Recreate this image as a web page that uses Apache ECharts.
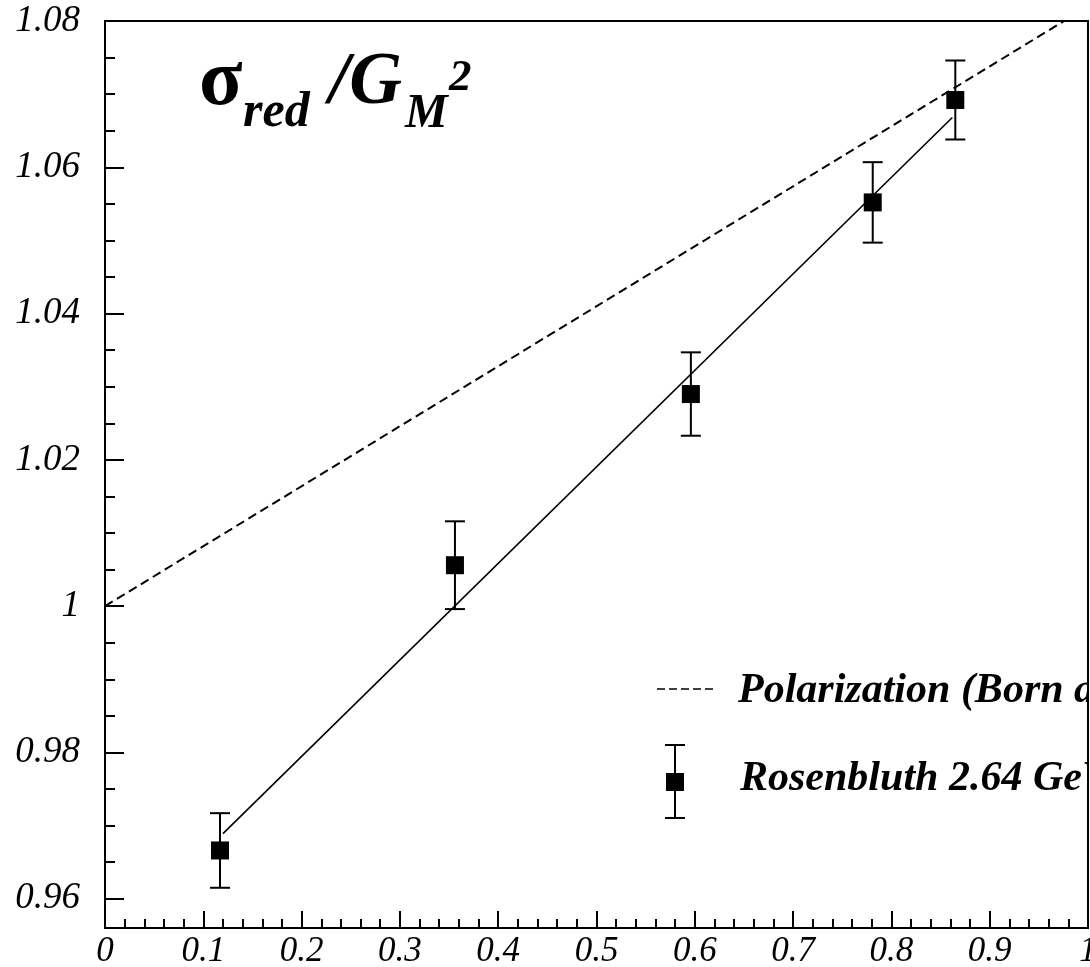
<!DOCTYPE html>
<html><head><meta charset="utf-8">
<script src="https://cdn.jsdelivr.net/npm/echarts@6/dist/echarts.min.js"></script>
<style>html,body{margin:0;padding:0;background:#fff}#c{width:1090px;height:967px}</style>
</head><body><div id="c"></div>
<script>
// Rosenbluth data points (x = epsilon, y = sigma_red / G_M^2)
const pointX = [0.117, 0.356, 0.596, 0.781, 0.865];
const pointY = [0.9666, 1.0056, 1.0290, 1.0552, 1.0692];
const pointErr = [0.0051, 0.0060, 0.0057, 0.0055, 0.0054];
// Linear fit through Rosenbluth points
const fitX = [0.120, 0.862];
const fitY = [0.9689, 1.0668];
// Polarization (Born approx.) line
const polX = [0, 1];
const polY = [1.0, 1.082];
// Axis ticks
const xTicks = [0, 0.1, 0.2, 0.3, 0.4, 0.5, 0.6, 0.7, 0.8, 0.9, 1];
const xTickLabels = ['0', '0.1', '0.2', '0.3', '0.4', '0.5', '0.6', '0.7', '0.8', '0.9', '1'];
const yTicks = [0.96, 0.98, 1.00, 1.02, 1.04, 1.06, 1.08];
const yTickLabels = ['0.96', '0.98', '1', '1.02', '1.04', '1.06', '1.08'];
const yMinorTicks = [0.965, 0.97, 0.975, 0.985, 0.99, 0.995, 1.005, 1.01, 1.015, 1.025, 1.03, 1.035, 1.045, 1.05, 1.055, 1.065, 1.07, 1.075];
const legendLabels = ['Polarization (Born approx.)', 'Rosenbluth 2.64 GeV'];

const FONT = "'Liberation Serif', 'DejaVu Serif', serif";
function labelFor(v, ticks, labels) {
  let best = 0, bd = Infinity;
  ticks.forEach((t, i) => { const d = Math.abs(t - v); if (d < bd) { bd = d; best = i; } });
  return labels[best];
}
function baseText(x, baseline, text, size, weight, style) {
  return {
    type: 'text', x: x, y: baseline - 0.33 * size, z: 50,
    style: { text: text, fill: '#000', font: style + ' ' + weight + ' ' + size + 'px ' + FONT, verticalAlign: 'middle', align: 'left' }
  };
}

const chart = echarts.init(document.getElementById('c'), null, { renderer: 'canvas' });
const errData = pointX.map((x, i) => [x, pointY[i], pointErr[i]]);

const option = {
  animation: false,
  backgroundColor: '#fff',
  grid: {
    left: 105, top: 21, right: 2, bottom: 39, show: true, containLabel: false, outerBoundsMode: 'none',
    borderColor: '#000', borderWidth: 2, backgroundColor: 'transparent'
  },
  xAxis: {
    type: 'value', min: 0, max: 1, interval: 0.1,
    axisLine: { show: true, lineStyle: { color: '#000', width: 2 } },
    axisTick: { show: true, inside: true, length: 17, lineStyle: { color: '#000', width: 2 } },
    minorTick: { show: true, splitNumber: 5, length: 9, lineStyle: { color: '#000', width: 2 } },
    splitLine: { show: false },
    axisLabel: {
      show: true, margin: 6, color: '#000', fontFamily: FONT, fontStyle: 'italic', fontSize: 35,
      showMinLabel: true, showMaxLabel: true, hideOverlap: false,
      formatter: v => labelFor(v, xTicks, xTickLabels)
    }
  },
  yAxis: [{
    type: 'value', min: 0.956, max: 1.08,
    axisLine: { show: true, lineStyle: { color: '#000', width: 2 } },
    axisTick: { show: true, inside: true, length: 19, customValues: yTicks, lineStyle: { color: '#000', width: 2 } },
    splitLine: { show: false },
    axisLabel: {
      show: true, margin: 25, color: '#000', fontFamily: FONT, fontStyle: 'italic', fontSize: 37,
      customValues: yTicks, showMinLabel: true, showMaxLabel: true, hideOverlap: false,
      formatter: v => labelFor(v, yTicks, yTickLabels)
    }
  }, {
    type: 'value', min: 0.956, max: 1.08, position: 'left', offset: 0, alignTicks: false,
    axisLine: { show: false },
    axisTick: { show: true, inside: true, length: 10, customValues: yMinorTicks, lineStyle: { color: '#000', width: 2 } },
    splitLine: { show: false },
    axisLabel: { show: false }
  }],
  series: [
    {
      type: 'line', name: legendLabels[0], data: polX.map((x, i) => [x, polY[i]]),
      showSymbol: false, symbol: 'none', clip: true,
      lineStyle: { color: '#000', width: 2, type: [9, 5] }
    },
    {
      type: 'line', name: 'fit', data: fitX.map((x, i) => [x, fitY[i]]),
      showSymbol: false, symbol: 'none', clip: true,
      lineStyle: { color: '#000', width: 1.6 }
    },
    {
      type: 'custom', name: 'err', data: errData,
      encode: { x: 0, y: 1 },
      renderItem: function (params, api) {
        const x = api.value(0), y = api.value(1), e = api.value(2);
        const t = api.coord([x, y + e]), b = api.coord([x, y - e]);
        const hw = 10, st = { stroke: '#000', lineWidth: 2 };
        return {
          type: 'group', children: [
            { type: 'line', shape: { x1: t[0], y1: t[1], x2: b[0], y2: b[1] }, style: st },
            { type: 'line', shape: { x1: t[0] - hw, y1: t[1], x2: t[0] + hw, y2: t[1] }, style: st },
            { type: 'line', shape: { x1: b[0] - hw, y1: b[1], x2: b[0] + hw, y2: b[1] }, style: st }
          ]
        };
      }
    },
    {
      type: 'scatter', name: legendLabels[1], data: pointX.map((x, i) => [x, pointY[i]]),
      symbol: 'rect', symbolSize: 18, itemStyle: { color: '#000', opacity: 1 }, z: 5
    }
  ],
  graphic: [
    // title sigma_red / G_M^2
    baseText(199, 110, 'σ', 80, 'bold', 'normal'),
    baseText(243, 130, 'red', 50, 'bold', 'italic'),
    baseText(329, 108, '/G', 73, 'bold', 'italic'),
    baseText(405, 130, 'M', 48, 'bold', 'italic'),
    baseText(449, 93, '2', 45, 'bold', 'italic'),
    // legend
    { type: 'line', z: 50, shape: { x1: 657, y1: 689, x2: 717, y2: 689 }, style: { stroke: '#000', lineWidth: 1.5, lineDash: [8, 4] } },
    baseText(738, 705, legendLabels[0], 42, 'bold', 'italic'),
    { type: 'line', z: 50, shape: { x1: 675, y1: 745, x2: 675, y2: 818 }, style: { stroke: '#000', lineWidth: 2 } },
    { type: 'line', z: 50, shape: { x1: 665, y1: 745, x2: 685, y2: 745 }, style: { stroke: '#000', lineWidth: 2 } },
    { type: 'line', z: 50, shape: { x1: 665, y1: 818, x2: 685, y2: 818 }, style: { stroke: '#000', lineWidth: 2 } },
    { type: 'rect', z: 50, shape: { x: 666, y: 773, width: 18, height: 18 }, style: { fill: '#000' } },
    baseText(740, 793, legendLabels[1], 42, 'bold', 'italic'),
    // white mask right of frame so legend text is clipped at the frame
    { type: 'rect', z: 59, shape: { x: 1089, y: 0, width: 10, height: 930 }, style: { fill: '#fff' } }
  ]
};
chart.setOption(option);
</script>
</body></html>
